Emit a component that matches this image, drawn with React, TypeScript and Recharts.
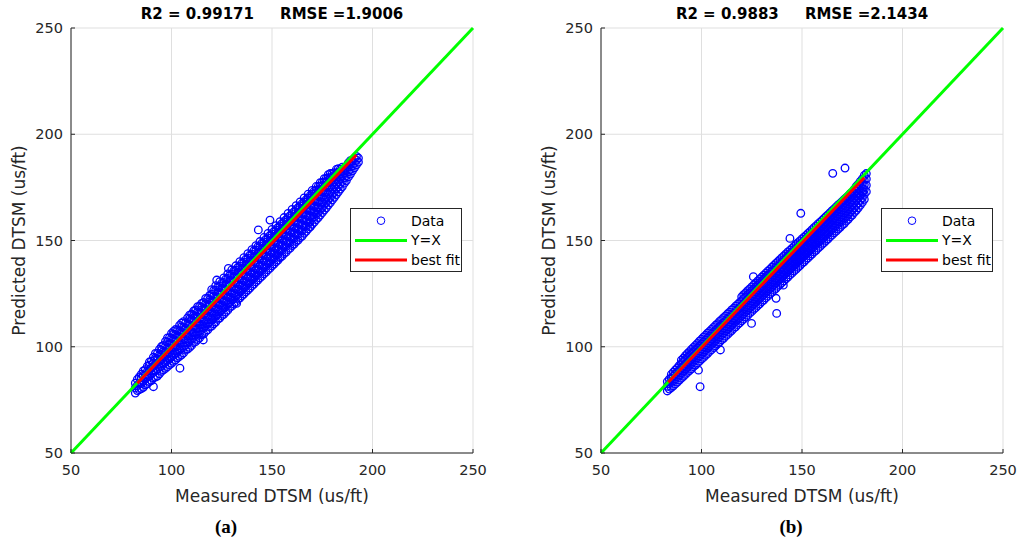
import { ScatterChart, Scatter, XAxis, YAxis, CartesianGrid, Legend } from 'recharts';

const cloudA: [number, number[]][] = [
  [82, [78.2, 80.6, 82.9]],
  [83, [79.4, 81.8, 84.6]],
  [85, [80.3, 82.7, 85.4, 87.1]],
  [87, [82.1, 84.9, 86.8, 89.2]],
  [89, [83.6, 86.2, 88.7, 91.3, 92.8]],
  [91, [85.4, 87.9, 90.6, 92.4, 95.1]],
  [93, [86.2, 89.5, 91.8, 94.3, 96.9]],
  [95, [88.4, 90.7, 93.9, 96.2, 98.4, 100.1]],
  [97, [89.8, 92.6, 95.3, 97.7, 100.2, 102.5]],
  [99, [91.5, 94.2, 96.8, 99.4, 101.6, 104.3]],
  [101, [93.1, 95.9, 98.4, 100.8, 103.5, 105.9, 107.2]],
  [103, [94.8, 97.3, 100.1, 102.6, 105.2, 107.8]],
  [105, [96.2, 99.1, 101.7, 104.4, 106.9, 109.3, 111.1]],
  [107, [98.4, 100.6, 103.5, 106.1, 108.7, 111.2]],
  [109, [99.7, 102.5, 105.3, 107.8, 110.4, 113.1, 114.9]],
  [111, [101.9, 104.3, 106.8, 109.6, 112.2, 114.7, 116.8]],
  [113, [103.4, 106.2, 108.9, 111.5, 114.1, 116.4, 118.9]],
  [115, [105.6, 108.1, 110.6, 113.3, 115.8, 118.5, 120.4]],
  [117, [107.2, 109.8, 112.5, 115.1, 117.6, 120.3, 122.7]],
  [119, [109.3, 111.6, 114.4, 116.9, 119.5, 122.1, 124.2]],
  [121, [110.8, 113.5, 116.2, 118.7, 121.4, 123.8, 126.5]],
  [123, [112.9, 115.3, 117.9, 120.6, 123.2, 125.7, 128.1]],
  [125, [114.6, 117.2, 119.8, 122.3, 125.1, 127.6, 129.9]],
  [127, [116.3, 118.9, 121.7, 124.2, 126.8, 129.4, 131.8]],
  [129, [118.5, 120.8, 123.4, 126.1, 128.7, 131.2, 133.6]],
  [131, [120.1, 122.7, 125.3, 127.9, 130.5, 133.1, 135.7]],
  [133, [122.4, 124.6, 127.2, 129.8, 132.4, 135, 137.3]],
  [135, [123.9, 126.5, 129.1, 131.6, 134.3, 136.8, 139.4]],
  [137, [125.8, 128.4, 130.9, 133.5, 136.1, 138.7, 141.2]],
  [139, [127.6, 130.2, 132.8, 135.4, 138, 140.6, 143.1]],
  [141, [129.5, 132.1, 134.7, 137.3, 139.9, 142.4, 145.2]],
  [143, [131.4, 133.9, 136.5, 139.2, 141.8, 144.3, 147.1]],
  [145, [133.2, 135.8, 138.4, 141, 143.7, 146.2, 148.8]],
  [147, [135.1, 137.7, 140.3, 142.9, 145.5, 148.1, 150.6]],
  [149, [137, 139.6, 142.2, 144.8, 147.4, 150, 152.4]],
  [151, [138.9, 141.5, 144.1, 146.7, 149.3, 151.8, 154.3]],
  [153, [140.8, 143.4, 146, 148.6, 151.2, 153.7, 156.2]],
  [155, [142.6, 145.2, 147.8, 150.5, 153.1, 155.6, 158]],
  [157, [144.5, 147.1, 149.7, 152.3, 154.9, 157.5, 159.8]],
  [159, [146.4, 149, 151.6, 154.2, 156.8, 159.3, 161.7]],
  [161, [148.3, 150.9, 153.5, 156.1, 158.7, 161.2, 163.6]],
  [163, [150.2, 152.8, 155.4, 158, 160.6, 163.1, 165.5]],
  [165, [152.1, 154.7, 157.3, 159.9, 162.5, 165, 167.4]],
  [167, [154.3, 156.8, 159.4, 162, 164.5, 167, 169.2]],
  [169, [156.4, 158.9, 161.5, 164, 166.6, 169.1, 171.1]],
  [171, [158.6, 161.1, 163.6, 166.1, 168.6, 171, 173.2]],
  [173, [160.8, 163.3, 165.8, 168.3, 170.8, 173.1, 175.4]],
  [175, [163.1, 165.6, 168.1, 170.5, 172.9, 175.2, 177.3]],
  [177, [165.4, 167.9, 170.3, 172.7, 175.1, 177.4, 179.2]],
  [179, [167.8, 170.2, 172.6, 175, 177.4, 179.6, 181.5]],
  [181, [170.3, 172.7, 175.1, 177.4, 179.8, 181.9]],
  [183, [172.9, 175.2, 177.6, 179.9, 182.1, 183.8]],
  [185, [175.4, 177.8, 180.1, 182.4, 184.5]],
  [187, [178.2, 180.5, 182.8, 185]],
  [189, [181.3, 183.5, 185.7, 187.6]],
  [191, [184.2, 186.4, 188.5]],
  [193, [186.9, 188.8]],
];

// panel a, even columns
const cloudA2: [number, number[]][] = [
  [84, [79.8, 82.9, 85.8]],
  [86, [80.9, 83.8, 86.5, 88.6]],
  [88, [82.6, 85.7, 88.4, 90.9]],
  [90, [84.1, 87.2, 90.1, 93.2]],
  [92, [85.7, 88.8, 91.7, 94.6, 96.9]],
  [94, [87.3, 90.4, 93.2, 96.1, 98.8]],
  [96, [89.1, 92.1, 94.9, 97.8, 100.6]],
  [98, [90.6, 93.7, 96.5, 99.6, 102.3, 104.2]],
  [100, [92.2, 95.3, 98.2, 101.2, 104, 106.3]],
  [102, [93.8, 96.9, 99.8, 102.8, 105.7, 108.1]],
  [104, [95.5, 98.6, 101.5, 104.5, 107.4, 110]],
  [106, [97.1, 100.2, 103.2, 106.2, 109.1, 111.8]],
  [108, [98.9, 101.9, 104.9, 107.9, 110.8, 113.6]],
  [110, [100.6, 103.6, 106.6, 109.6, 112.6, 115.4]],
  [112, [102.4, 105.4, 108.4, 111.4, 114.4, 117.3]],
  [114, [104.2, 107.2, 110.2, 113.2, 116.2, 119.1]],
  [116, [106, 109, 112, 115, 118, 120.9]],
  [118, [107.9, 110.9, 113.9, 116.9, 119.9, 122.8]],
  [120, [109.7, 112.7, 115.7, 118.7, 121.7, 124.7, 126.9]],
  [122, [111.6, 114.6, 117.6, 120.6, 123.6, 126.6, 128.7]],
  [124, [113.5, 116.5, 119.5, 122.5, 125.5, 128.5, 130.6]],
  [126, [115.3, 118.3, 121.3, 124.3, 127.3, 130.3, 132.4]],
  [128, [117.2, 120.2, 123.2, 126.2, 129.2, 132.2, 134.3]],
  [130, [119.1, 122.1, 125.1, 128.1, 131.1, 134.1, 136.2]],
  [132, [121, 124, 127, 130, 133, 136, 138.1]],
  [134, [122.9, 125.9, 128.9, 131.9, 134.9, 137.9, 140]],
  [136, [124.8, 127.8, 130.8, 133.8, 136.8, 139.8, 141.9]],
  [138, [126.7, 129.7, 132.7, 135.7, 138.7, 141.7, 143.8]],
  [140, [128.6, 131.6, 134.6, 137.6, 140.6, 143.6, 145.7]],
  [142, [130.5, 133.5, 136.5, 139.5, 142.5, 145.5, 147.6]],
  [144, [132.4, 135.4, 138.4, 141.4, 144.4, 147.4, 149.5]],
  [146, [134.3, 137.3, 140.3, 143.3, 146.3, 149.3, 151.4]],
  [148, [136.2, 139.2, 142.2, 145.2, 148.2, 151.2, 153.3]],
  [150, [138.1, 141.1, 144.1, 147.1, 150.1, 153.1, 155.2]],
  [152, [140, 143, 146, 149, 152, 155, 157]],
  [154, [141.9, 144.9, 147.9, 150.9, 153.9, 156.9, 158.9]],
  [156, [143.8, 146.8, 149.8, 152.8, 155.8, 158.8, 160.8]],
  [158, [145.7, 148.7, 151.7, 154.7, 157.7, 160.7, 162.7]],
  [160, [147.6, 150.6, 153.6, 156.6, 159.6, 162.6, 164.6]],
  [162, [149.5, 152.5, 155.5, 158.5, 161.5, 164.5, 166.4]],
  [164, [151.4, 154.4, 157.4, 160.4, 163.4, 166.3, 168.2]],
  [166, [153.4, 156.4, 159.4, 162.3, 165.2, 168.1, 170]],
  [168, [155.5, 158.4, 161.3, 164.2, 167.1, 169.9, 171.8]],
  [170, [157.6, 160.5, 163.3, 166.2, 169, 171.8, 173.6]],
  [172, [159.8, 162.6, 165.4, 168.2, 171, 173.7, 175.4]],
  [174, [162, 164.8, 167.6, 170.3, 173, 175.6, 177.2]],
  [176, [164.3, 167.1, 169.8, 172.5, 175.1, 177.6, 179.1]],
  [178, [166.7, 169.4, 172.1, 174.7, 177.2, 179.6, 181]],
  [180, [169.1, 171.8, 174.4, 176.9, 179.3, 181.5]],
  [182, [171.6, 174.3, 176.8, 179.2, 181.5, 183.4]],
  [184, [174.2, 176.8, 179.2, 181.5, 183.6]],
  [186, [177, 179.5, 181.8, 184]],
  [188, [179.9, 182.3, 184.6, 186.5]],
  [190, [182.8, 185.1, 187.3]],
  [192, [185.6, 187.8, 189.6]],
];

const outliersA: [number, number][] = [
  [104.2, 89.9], [91, 81.2], [143.2, 155], [149, 159.6], [128.3, 136.9],
  [122.5, 131.4], [132.4, 120.4], [154, 142.4], [168.9, 156.5], [115.8, 103.2],
];

// panel b, odd columns
const cloudB: [number, number[]][] = [
  [83, [79.2, 81.4, 83.6]],
  [85, [80.8, 83.1, 85.3, 87]],
  [87, [82.5, 84.9, 87.2, 89.1]],
  [89, [84.3, 86.7, 89, 91.2]],
  [91, [86.1, 88.5, 90.8, 93.1, 94.6]],
  [93, [87.9, 90.3, 92.6, 95, 96.8]],
  [95, [89.6, 92.1, 94.5, 96.8, 98.7]],
  [97, [91.4, 93.9, 96.3, 98.7, 100.6]],
  [99, [93.2, 95.7, 98.1, 100.5, 102.6]],
  [101, [95, 97.5, 99.9, 102.3, 104.5]],
  [103, [96.8, 99.3, 101.7, 104.1, 106.4]],
  [105, [98.6, 101.1, 103.5, 105.9, 108.2]],
  [107, [100.4, 102.9, 105.3, 107.7, 110.1]],
  [109, [102.2, 104.7, 107.1, 109.5, 111.9]],
  [111, [104, 106.5, 108.9, 111.3, 113.7]],
  [113, [105.8, 108.3, 110.7, 113.1, 115.5]],
  [115, [107.6, 110.1, 112.5, 114.9, 117.3]],
  [117, [109.4, 111.9, 114.3, 116.7, 119.1]],
  [119, [111.2, 113.7, 116.1, 118.5, 120.9]],
  [121, [113, 115.5, 117.9, 120.3, 122.7, 124.5]],
  [123, [114.8, 117.3, 119.7, 122.1, 124.5, 126.4]],
  [125, [116.6, 119.1, 121.5, 123.9, 126.3, 128.2]],
  [127, [118.4, 120.9, 123.3, 125.7, 128.1, 130]],
  [129, [120.2, 122.7, 125.1, 127.5, 129.9, 131.9]],
  [131, [122, 124.5, 126.9, 129.3, 131.7, 133.7]],
  [133, [123.8, 126.3, 128.7, 131.1, 133.5, 135.6]],
  [135, [125.6, 128.1, 130.5, 132.9, 135.3, 137.4]],
  [137, [127.4, 129.9, 132.3, 134.7, 137.1, 139.2]],
  [139, [129.2, 131.7, 134.1, 136.5, 138.9, 141]],
  [141, [131, 133.5, 135.9, 138.3, 140.7, 142.8]],
  [143, [132.8, 135.3, 137.7, 140.1, 142.5, 144.6]],
  [145, [134.6, 137.1, 139.5, 141.9, 144.3, 146.3]],
  [147, [136.4, 138.9, 141.3, 143.7, 146.1, 148.1]],
  [149, [138.2, 140.7, 143.1, 145.5, 147.9, 149.8]],
  [151, [140, 142.5, 144.9, 147.3, 149.7, 151.6]],
  [153, [141.8, 144.3, 146.7, 149.1, 151.5, 153.3]],
  [155, [143.6, 146.1, 148.5, 150.9, 153.3, 155.1]],
  [157, [145.4, 147.9, 150.3, 152.7, 155.1, 156.9]],
  [159, [147.2, 149.7, 152.1, 154.5, 156.9, 158.6]],
  [161, [149, 151.5, 153.9, 156.3, 158.7, 160.4]],
  [163, [150.8, 153.3, 155.7, 158.1, 160.5, 162.2]],
  [165, [152.6, 155.1, 157.5, 159.9, 162.3, 164]],
  [167, [154.4, 156.9, 159.3, 161.7, 164.1, 165.8]],
  [169, [156.2, 158.7, 161.1, 163.5, 165.9, 167.5]],
  [171, [158, 160.5, 162.9, 165.3, 167.7, 169.3]],
  [173, [160, 162.4, 164.8, 167.2, 169.5, 171]],
  [175, [162, 164.4, 166.7, 169, 171.3, 172.8]],
  [177, [164.2, 166.5, 168.8, 171.1, 173.3, 175.5]],
  [179, [166.6, 168.9, 171.1, 173.4, 175.6, 177.8]],
  [181, [169.4, 171.7, 174, 176.2, 178.4, 180.6]],
  [182, [173, 176, 179, 181.5]],
];

// panel b, even columns
const cloudB2: [number, number[]][] = [
  [84, [80.1, 82.6, 84.7]],
  [86, [81.6, 84.1, 86.3, 88]],
  [88, [83.4, 85.9, 88.1, 90.1]],
  [90, [85.2, 87.7, 89.9, 92, 93.7]],
  [92, [87, 89.5, 91.8, 94, 95.8]],
  [94, [88.8, 91.3, 93.6, 95.9, 97.7]],
  [96, [90.6, 93.1, 95.4, 97.7, 99.7]],
  [98, [92.4, 94.9, 97.2, 99.5, 101.6]],
  [100, [94.2, 96.7, 99, 101.3, 103.5]],
  [102, [96, 98.5, 100.8, 103.1, 105.4]],
  [104, [97.8, 100.3, 102.6, 104.9, 107.2]],
  [106, [99.6, 102.1, 104.4, 106.7, 109.1]],
  [108, [101.4, 103.9, 106.2, 108.5, 110.9]],
  [110, [103.2, 105.7, 108, 110.3, 112.7]],
  [112, [105, 107.5, 109.8, 112.1, 114.5]],
  [114, [106.8, 109.3, 111.6, 113.9, 116.3]],
  [116, [108.6, 111.1, 113.4, 115.7, 118.1]],
  [118, [110.4, 112.9, 115.2, 117.5, 119.9]],
  [120, [112.2, 114.7, 117, 119.3, 121.7, 123.5]],
  [122, [114, 116.5, 118.8, 121.1, 123.5, 125.4]],
  [124, [115.8, 118.3, 120.6, 122.9, 125.3, 127.2]],
  [126, [117.6, 120.1, 122.4, 124.7, 127.1, 129.1]],
  [128, [119.4, 121.9, 124.2, 126.5, 128.9, 131]],
  [130, [121.2, 123.7, 126, 128.3, 130.7, 132.8]],
  [132, [123, 125.5, 127.8, 130.1, 132.5, 134.6]],
  [134, [124.8, 127.3, 129.6, 131.9, 134.3, 136.4]],
  [136, [126.6, 129.1, 131.4, 133.7, 136.1, 138.3]],
  [138, [128.4, 130.9, 133.2, 135.5, 137.9, 140.1]],
  [140, [130.2, 132.7, 135, 137.3, 139.7, 141.9]],
  [142, [132, 134.5, 136.8, 139.1, 141.5, 143.7]],
  [144, [133.8, 136.3, 138.6, 140.9, 143.3, 145.4]],
  [146, [135.6, 138.1, 140.4, 142.7, 145.1, 147.2]],
  [148, [137.4, 139.9, 142.2, 144.5, 146.9, 149]],
  [150, [139.2, 141.7, 144, 146.3, 148.7, 150.7]],
  [152, [141, 143.5, 145.8, 148.1, 150.5, 152.4]],
  [154, [142.8, 145.3, 147.6, 149.9, 152.3, 154.2]],
  [156, [144.6, 147.1, 149.4, 151.7, 154.1, 156]],
  [158, [146.4, 148.9, 151.2, 153.5, 155.9, 157.8]],
  [160, [148.2, 150.7, 153, 155.3, 157.7, 159.5]],
  [162, [150, 152.5, 154.8, 157.1, 159.5, 161.3]],
  [164, [151.8, 154.3, 156.6, 158.9, 161.3, 163.1]],
  [166, [153.6, 156.1, 158.4, 160.7, 163.1, 164.9]],
  [168, [155.4, 157.9, 160.2, 162.5, 164.9, 166.7]],
  [170, [157.2, 159.7, 162, 164.3, 166.7, 168.4]],
  [172, [159.1, 161.5, 163.8, 166.1, 168.5, 170.2]],
  [174, [161.1, 163.4, 165.7, 168, 170.3, 172]],
  [176, [163.2, 165.4, 167.7, 169.9, 172.2, 174.1]],
  [178, [165.4, 167.6, 169.8, 172, 174.2, 176.5]],
  [180, [167.9, 170.1, 172.3, 174.5, 176.7, 179]],
];

const outliersB: [number, number][] = [
  [171.4, 184.1], [165.3, 181.6], [149.4, 162.8], [137.1, 122.8], [137.4, 115.7],
  [124.9, 111], [99.3, 81.2], [98.5, 89], [140.7, 129], [109.4, 98.5],
  [144, 151], [158, 149.4], [180.3, 173], [125.8, 133],
];

const axisTicks = [50, 100, 150, 200, 250];
const diagonal = [{ x: 50, y: 50 }, { x: 250, y: 250 }];
const fitA = [{ x: 83, y: 82.8 }, { x: 192, y: 190.2 }];
const fitB = [{ x: 83.5, y: 83.3 }, { x: 181, y: 179.5 }];

const legendItems = [
  { label: 'Data', kind: 'marker', color: '#0000ff' },
  { label: 'Y=X', kind: 'line', color: '#00ff00' },
  { label: 'best fit', kind: 'line', color: '#ff0000' },
];

const axisColor = '#262626';
const tickFont = 14.5;
const labelFont = 17;

const toPoints = (clouds: [number, number[]][][], extra: [number, number][]) => [
  ...clouds.flatMap((cloud) => cloud.flatMap(([x, ys]) => ys.map((y) => ({ x, y })))),
  ...extra.map(([x, y]) => ({ x, y })),
];

const Ring = (props: any) => (
  <circle cx={props.cx} cy={props.cy} r={3.8} fill="none" stroke="#0000ff" strokeWidth={1.3} />
);
const NoShape = () => <g />;

const BottomTick = (props: any) => {
  const { x, y, payload } = props;
  return (
    <g>
      <line x1={x} x2={x} y1={y - 12} y2={y - 16} stroke={axisColor} />
      <text x={x} y={y} dy="0.72em" textAnchor="middle" fill={axisColor} fontSize={tickFont}>
        {payload.value}
      </text>
    </g>
  );
};

const LeftTick = (props: any) => {
  const { x, y, payload } = props;
  return (
    <g>
      <line x1={x + 8} x2={x + 12} y1={y} y2={y} stroke={axisColor} />
      <text x={x} y={y} dy="0.355em" textAnchor="end" fill={axisColor} fontSize={tickFont}>
        {payload.value}
      </text>
    </g>
  );
};

const TopTick = (props: any) => (
  <line x1={props.x} x2={props.x} y1={props.y} y2={props.y + 4} stroke={axisColor} />
);
const RightTick = (props: any) => (
  <line x1={props.x - 4} x2={props.x} y1={props.y} y2={props.y} stroke={axisColor} />
);

const YLabel = (props: any) => {
  const { x, y, height } = props.viewBox;
  const cx = x + 19;
  const cy = y + height / 2;
  return (
    <text x={cx} y={cy} dy="0.355em" transform={`rotate(-90, ${cx}, ${cy})`} textAnchor="middle" fill={axisColor} fontSize={labelFont}>
      Predicted DTSM (us/ft)
    </text>
  );
};

const LegendBox = () => (
  <svg width={112} height={64} style={{ display: 'block' }}>
    <rect x={0.5} y={0.5} width={111} height={63} fill="#ffffff" stroke={axisColor} />
    {legendItems.map((item, i) => {
      const cy = 12.7 + i * 19.7;
      return (
        <g key={item.label}>
          {item.kind === 'marker' ? (
            <circle cx={31} cy={cy} r={3.8} fill="none" stroke={item.color} strokeWidth={1} />
          ) : (
            <line x1={5} x2={57} y1={cy} y2={cy} stroke={item.color} strokeWidth={3} />
          )}
          <text x={61} y={cy} dy="0.355em" fontSize={14} fill="#000000">
            {item.label}
          </text>
        </g>
      );
    })}
  </svg>
);

interface PanelProps {
  left: number;
  width: number;
  points: { x: number; y: number }[];
  fit: { x: number; y: number }[];
  legendLeft: number;
}

function Panel({ left, width, points, fit, legendLeft }: PanelProps) {
  return (
    <div style={{ position: 'absolute', left, top: 0 }}>
      <ScatterChart width={width} height={543} margin={{ top: 28, right: width - 473, bottom: 40, left: 0 }}>
        <CartesianGrid stroke="#dfdfdf" />
        <XAxis
          type="number"
          dataKey="x"
          domain={[50, 250]}
          ticks={axisTicks}
          height={50}
          tickSize={0}
          tickMargin={12}
          tick={BottomTick}
          stroke={axisColor}
          label={{ value: 'Measured DTSM (us/ft)', position: 'insideBottom', offset: 1, fill: axisColor, fontSize: labelFont }}
        />
        <XAxis
          xAxisId="top"
          orientation="top"
          type="number"
          dataKey="x"
          domain={[50, 250]}
          ticks={axisTicks}
          height={0}
          tickSize={0}
          tickMargin={0}
          tick={TopTick}
          stroke={axisColor}
        />
        <YAxis
          type="number"
          dataKey="y"
          domain={[50, 250]}
          ticks={axisTicks}
          width={71}
          tickSize={0}
          tickMargin={8}
          tick={LeftTick}
          stroke={axisColor}
          label={YLabel}
        />
        <YAxis
          yAxisId="right"
          orientation="right"
          type="number"
          dataKey="y"
          domain={[50, 250]}
          ticks={axisTicks}
          width={0}
          tickSize={0}
          tickMargin={0}
          tick={RightTick}
          stroke={axisColor}
        />
        <Legend
          layout="vertical"
          align="center"
          verticalAlign="middle"
          wrapperStyle={{ left: legendLeft, top: 208, width: 112, height: 64 }}
          content={LegendBox}
        />
        <Scatter name="Data" data={points} shape={Ring} legendType="circle" isAnimationActive={false} />
        <Scatter
          name="Y=X"
          data={diagonal}
          line={{ stroke: '#00ff00', strokeWidth: 3 }}
          shape={NoShape}
          legendType="line"
          isAnimationActive={false}
        />
        <Scatter
          name="best fit"
          data={fit}
          line={{ stroke: '#ff0000', strokeWidth: 3 }}
          shape={NoShape}
          legendType="line"
          isAnimationActive={false}
        />
      </ScatterChart>
    </div>
  );
}

export default function App() {
  const pointsA = toPoints([cloudA, cloudA2], outliersA);
  const pointsB = toPoints([cloudB, cloudB2], outliersB);
  return (
    <div
      style={{
        position: 'absolute',
        left: 0,
        top: 0,
        width: 1019,
        height: 543,
        overflow: 'hidden',
        background: '#ffffff',
        fontFamily: "'DejaVu Sans', sans-serif",
      }}
    >
      <Panel left={0} width={510} points={pointsA} fit={fitA} legendLeft={350} />
      <Panel left={530} width={489} points={pointsB} fit={fitB} legendLeft={351} />
      <svg width={1019} height={543} style={{ position: 'absolute', left: 0, top: 0, pointerEvents: 'none' }}>
        <text x={272} y={18.5} textAnchor="middle" fontSize={15} fontWeight="bold" fill="#000000" style={{ whiteSpace: 'pre' }}>
          {'R2 = 0.99171     RMSE =1.9006'}
        </text>
        <text x={802} y={18.5} textAnchor="middle" fontSize={15} fontWeight="bold" fill="#000000" style={{ whiteSpace: 'pre' }}>
          {'R2 = 0.9883     RMSE =2.1434'}
        </text>
        <text x={226} y={533} textAnchor="middle" fontSize={19} fontWeight="bold" fontFamily="'Liberation Serif', serif" fill="#000000">
          (a)
        </text>
        <text x={791} y={533} textAnchor="middle" fontSize={19} fontWeight="bold" fontFamily="'Liberation Serif', serif" fill="#000000">
          (b)
        </text>
      </svg>
    </div>
  );
}
